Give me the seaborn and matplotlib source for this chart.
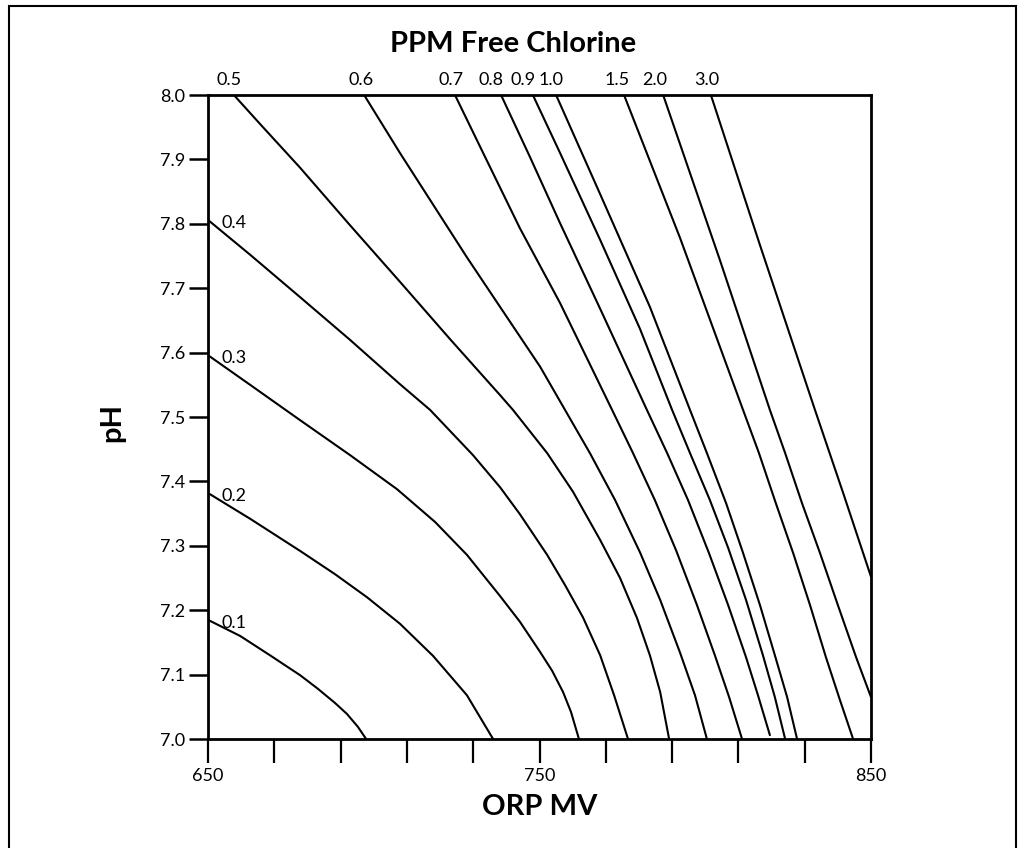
import numpy as np
import pandas as pd
import matplotlib
matplotlib.use("Agg")
import matplotlib.pyplot as plt
import seaborn as sns
from matplotlib.patches import Rectangle

# ---------------- data ----------------
ppm_levels = ["0.1", "0.2", "0.3", "0.4", "0.5", "0.6", "0.7",
              "0.8", "0.9", "1.0", "1.5", "2.0", "3.0"]

orp_01 = [650.0, 659.7, 668.7, 677.8, 682.9, 688.3, 691.9, 695.2, 697.7]
ph_01 = [7.185, 7.160, 7.130, 7.099, 7.079, 7.056, 7.039, 7.019, 7.000]

orp_02 = [650.0, 662.7, 677.8, 688.3, 698.0, 707.9, 717.9, 728.1, 736.0]
ph_02 = [7.382, 7.342, 7.292, 7.256, 7.220, 7.179, 7.129, 7.068, 7.000]

orp_03 = [650.0, 662.7, 677.8, 692.8, 707.0, 718.5, 728.1, 738.1, 744.1,
          750.2, 753.8, 757.1, 759.5, 761.9]
ph_03 = [7.596, 7.550, 7.495, 7.441, 7.388, 7.337, 7.286, 7.222, 7.182,
         7.135, 7.106, 7.073, 7.042, 7.000]

orp_04 = [650.0, 662.7, 677.8, 692.8, 707.9, 717.0, 729.9, 738.1, 744.1,
          752.3, 757.7, 763.1, 768.3, 772.5, 776.7]
ph_04 = [7.806, 7.752, 7.686, 7.620, 7.551, 7.511, 7.441, 7.391, 7.349,
         7.286, 7.239, 7.189, 7.130, 7.068, 7.000]

orp_05 = [657.8, 665.7, 677.8, 692.8, 707.9, 723.0, 738.1, 742.0, 752.3,
          760.1, 768.3, 774.3, 779.4, 783.3, 786.4, 789.1]
ph_05 = [8.000, 7.955, 7.887, 7.798, 7.710, 7.621, 7.534, 7.511, 7.444,
         7.384, 7.309, 7.250, 7.188, 7.130, 7.073, 7.000]

orp_06 = [697.1, 707.9, 728.1, 738.1, 750.2, 757.7, 765.2, 772.8, 780.3,
          786.4, 792.4, 796.9, 800.5]
ph_06 = [8.000, 7.910, 7.748, 7.671, 7.578, 7.511, 7.444, 7.371, 7.290,
         7.216, 7.134, 7.068, 7.000]

orp_07 = [724.5, 733.0, 744.1, 756.2, 771.9, 778.2, 784.8, 791.2, 797.5,
          802.9, 807.2, 811.1]
ph_07 = [8.000, 7.910, 7.793, 7.677, 7.511, 7.444, 7.371, 7.293, 7.208,
         7.130, 7.065, 7.000]

orp_08 = [738.4, 747.1, 756.2, 768.3, 782.4, 788.5, 794.8, 801.1, 806.9,
          812.3, 815.9, 819.5]
ph_08 = [8.000, 7.904, 7.801, 7.668, 7.511, 7.444, 7.371, 7.289, 7.208,
         7.127, 7.068, 7.006]

orp_09 = [748.0, 756.2, 768.3, 780.3, 790.0, 795.4, 801.4, 806.9, 812.3,
          817.4, 821.0, 824.1]
ph_09 = [8.000, 7.910, 7.775, 7.637, 7.511, 7.444, 7.371, 7.297, 7.216,
         7.130, 7.065, 7.000]

orp_10 = [755.0, 768.3, 783.3, 795.4, 800.5, 806.3, 811.4, 816.5, 821.0,
          824.7, 827.7]
ph_10 = [8.000, 7.846, 7.671, 7.511, 7.444, 7.366, 7.289, 7.208, 7.130,
         7.065, 7.000]

orp_15 = [775.5, 792.4, 811.4, 816.2, 821.3, 826.5, 831.6, 836.4, 840.6, 844.6]
ph_15 = [8.000, 7.778, 7.511, 7.444, 7.366, 7.289, 7.208, 7.127, 7.061, 7.000]

orp_20 = [787.3, 804.4, 819.5, 824.1, 829.2, 834.6, 840.0, 845.5, 850.0]
ph_20 = [8.000, 7.744, 7.511, 7.444, 7.366, 7.289, 7.208, 7.127, 7.065]

orp_30 = [801.7, 816.5, 833.1, 841.6, 850.0]
ph_30 = [8.000, 7.767, 7.511, 7.382, 7.252]

x_ticks = [650, 670, 690, 710, 730, 750, 770, 790, 810, 830, 850]
x_ticklabels = ["650", "", "", "", "", "750", "", "", "", "", "850"]
y_ticks = [7.0, 7.1, 7.2, 7.3, 7.4, 7.5, 7.6, 7.7, 7.8, 7.9, 8.0]
y_ticklabels = ["7.0", "7.1", "7.2", "7.3", "7.4", "7.5", "7.6", "7.7", "7.8", "7.9", "8.0"]

title_text = "PPM Free Chlorine"
xlabel_text = "ORP MV"
ylabel_text = "pH"

series = [(orp_01, ph_01), (orp_02, ph_02), (orp_03, ph_03), (orp_04, ph_04),
          (orp_05, ph_05), (orp_06, ph_06), (orp_07, ph_07), (orp_08, ph_08),
          (orp_09, ph_09), (orp_10, ph_10), (orp_15, ph_15), (orp_20, ph_20),
          (orp_30, ph_30)]

rows = []
for lab, (xs, ys) in zip(ppm_levels, series):
    for x, y in zip(xs, ys):
        rows.append({"ppm": lab, "orp": x, "ph": y})
df = pd.DataFrame(rows)

# ---------------- style ----------------
sns.set_theme(style="white")
plt.rcParams["font.family"] = ["Lato", "DejaVu Sans"]
plt.rcParams["text.color"] = "black"

W, H = 1018, 848
fig = plt.figure(figsize=(W / 100, H / 100), dpi=100)
ax = fig.add_axes([208 / W, 1 - 739 / H, (871 - 208) / W, (739 - 95) / H])

sns.lineplot(data=df, x="orp", y="ph", hue="ppm", hue_order=ppm_levels,
             palette=["black"] * len(ppm_levels), estimator=None, sort=True,
             legend=False, linewidth=1.5, ax=ax)

ax.set_xlim(650, 850)
ax.set_ylim(7.0, 8.0)
ax.set_xticks(x_ticks)
ax.set_xticklabels(x_ticklabels)
ax.set_yticks(y_ticks)
ax.set_yticklabels(y_ticklabels)
ax.tick_params(axis="x", direction="out", length=17, width=1.6, pad=4,
               labelsize=13, colors="black", labelcolor="black")
ax.tick_params(axis="y", direction="out", length=13.5, width=1.8, pad=3,
               labelsize=13, colors="black", labelcolor="black")
ax.tick_params(bottom=True, left=True, top=False, right=False)
for s in ax.spines.values():
    s.set_visible(True)
    s.set_color("black")
    s.set_linewidth(2.0)

ax.set_xlabel(xlabel_text, fontsize=21, fontweight="bold", color="black")
ax.set_ylabel(ylabel_text, fontsize=21, fontweight="bold", color="black")
ax.xaxis.set_label_coords(0.5, -(807 - 739) / (739 - 95))
ax.yaxis.set_label_coords(-(208 - 112) / (871 - 208), 1 - (422 - 95) / (739 - 95))
ax.yaxis.label.set_va("center")
ax.xaxis.label.set_va("center")

fig.text(0.5 * (393 + 633) / W, 1 - 44 / H, title_text, fontsize=21,
         fontweight="bold", ha="center", va="center", color="black")

# line labels: on top edge for lines starting at pH 8.0, else at the left edge
top_nudge = {"0.5": -5, "0.6": -3, "0.7": -4, "0.8": -10, "0.9": -10,
             "1.0": -5, "1.5": -7, "2.0": -8, "3.0": -4}
for lab, (xs, ys) in zip(ppm_levels, series):
    if ys[0] >= 8.0:
        ax.annotate(lab, xy=(xs[0], 8.0), xytext=(top_nudge.get(lab, 0), 7),
                    textcoords="offset pixels", ha="center", va="bottom",
                    fontsize=13, color="black", annotation_clip=False)
    else:
        ax.annotate(lab, xy=(xs[0], ys[0]), xytext=(14, -3),
                    textcoords="offset pixels", ha="left", va="center",
                    fontsize=13, color="black", annotation_clip=False)

# outer frame around the figure
fig.add_artist(Rectangle((9 / W, -0.05), (1016 - 9) / W, 1.05 - 6 / H,
                         transform=fig.transFigure, fill=False,
                         edgecolor="black", linewidth=1.5))

fig.savefig("out.png", dpi=100, facecolor="white")
